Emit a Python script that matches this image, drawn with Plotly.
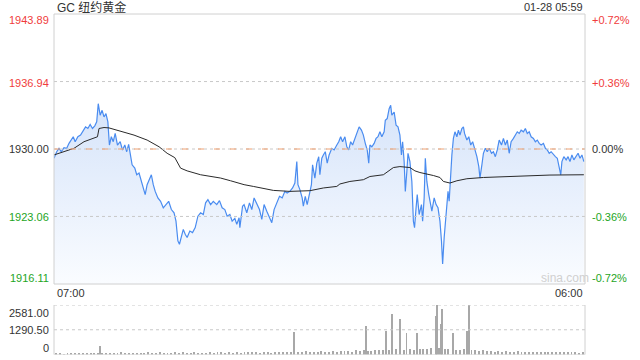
import plotly.graph_objects as go

# ---------------- data ----------------
# minutes after 07:00
price_min = [0, 7, 13, 19, 26, 33, 39, 45, 50, 55, 62, 69, 76, 82, 88, 94, 100, 106, 111, 115,
             120, 125, 130, 135, 140, 144, 149, 154, 159, 165, 172, 178, 184, 189, 194, 198, 203, 210, 215, 221,
             227, 232, 237, 242, 248, 253, 258, 263, 270, 277, 284, 291, 298, 305, 312, 317, 322, 326, 331, 336,
             341, 346, 353, 360, 367, 374, 381, 388, 394, 400, 407, 414, 423, 430, 437, 444, 450, 457, 463, 470,
             475, 481, 483, 487, 490, 494, 501, 508, 514, 520, 527, 534, 540, 546, 553, 560, 566, 572, 579, 586,
             593, 600, 606, 613, 620, 626, 631, 634, 639, 645, 648, 653, 658, 664, 669, 672, 678, 683, 688, 691,
             696, 700, 705, 710, 715, 722, 728, 735, 740, 745, 750, 756, 761, 766, 771, 776, 782, 788, 793, 799,
             804, 809, 814, 818, 821, 826, 832, 837, 842, 847, 852, 858, 861, 866, 871, 875, 878, 884, 889, 894,
             899, 903, 906, 910, 913, 917, 920, 925, 930, 934, 937, 941, 944, 949, 955, 958, 962, 965, 969, 974,
             982, 988, 993, 998, 1003, 1007, 1010, 1014, 1017, 1021, 1024, 1027, 1031, 1034, 1038, 1042, 1047, 1051, 1055, 1060,
             1064, 1067, 1073, 1078, 1083, 1088, 1093, 1099, 1104, 1107, 1112, 1116, 1121, 1126, 1131, 1137, 1142, 1147, 1152, 1157,
             1163, 1168, 1173, 1178, 1183, 1188, 1194, 1199, 1204, 1209, 1214, 1220, 1225, 1230, 1235, 1240, 1246, 1251, 1256, 1261,
             1266, 1272, 1277, 1282, 1287, 1292, 1298, 1303, 1308, 1313, 1317, 1320, 1325, 1331, 1336, 1341, 1346, 1351, 1357, 1362,
             1367, 1372, 1377]
price = [1929.05, 1929.72, 1930.07, 1929.72, 1930.13, 1930.07, 1930.58, 1930.92, 1931.26, 1930.75,
         1931.26, 1931.43, 1931.94, 1932.28, 1932.11, 1932.52, 1932.11, 1932.38, 1932.79, 1934.66,
         1933.47, 1933.98, 1933.30, 1933.64, 1932.79, 1930.41, 1931.26, 1930.75, 1931.60, 1930.41,
         1930.75, 1929.90, 1930.41, 1929.72, 1930.48, 1929.39, 1928.37, 1928.03, 1927.35, 1927.52,
         1926.66, 1926.15, 1925.31, 1926.33, 1927.01, 1927.35, 1926.33, 1925.64, 1924.97, 1924.62,
         1923.95, 1924.28, 1924.62, 1923.77, 1923.44, 1922.58, 1920.54, 1920.20, 1921.05, 1921.73,
         1921.22, 1920.89, 1921.56, 1921.40, 1921.91, 1923.09, 1923.44, 1923.26, 1924.46, 1924.79,
         1924.28, 1924.62, 1924.28, 1924.69, 1923.95, 1923.77, 1923.09, 1923.26, 1922.58, 1922.86,
         1922.24, 1922.93, 1921.91, 1923.26, 1924.11, 1924.28, 1923.44, 1924.46, 1923.77, 1924.97,
         1924.28, 1923.77, 1922.75, 1924.28, 1923.60, 1922.93, 1922.42, 1923.77, 1924.46, 1925.13,
         1924.97, 1925.64, 1925.48, 1925.64, 1925.99, 1926.50, 1928.70, 1926.33, 1925.82, 1924.97,
         1924.11, 1925.13, 1924.28, 1925.31, 1926.33, 1928.37, 1927.01, 1928.54, 1929.21, 1927.35,
         1929.05, 1929.39, 1929.72, 1928.54, 1929.39, 1930.07, 1929.90, 1930.41, 1930.75, 1931.26,
         1930.75, 1931.26, 1930.23, 1929.90, 1930.75, 1930.41, 1931.09, 1931.77, 1932.28, 1931.94,
         1931.43, 1930.58, 1929.90, 1928.54, 1930.41, 1930.23, 1930.58, 1931.09, 1931.26, 1931.77,
         1931.26, 1931.77, 1932.96, 1933.13, 1934.15, 1934.49, 1933.47, 1933.81, 1932.45, 1932.28,
         1931.43, 1929.39, 1930.75, 1928.70, 1925.64, 1927.68, 1929.56, 1928.70, 1926.66, 1922.58,
         1921.91, 1923.95, 1925.31, 1923.26, 1924.28, 1922.58, 1924.97, 1929.05, 1926.66, 1925.31,
         1923.60, 1924.97, 1924.28, 1923.95, 1922.58, 1920.54, 1918.16, 1920.89, 1922.58, 1924.28,
         1925.64, 1924.62, 1927.68, 1929.39, 1931.09, 1931.77, 1931.26, 1931.94, 1931.43, 1932.11,
         1932.28, 1931.60, 1930.92, 1931.26, 1930.41, 1930.75, 1930.07, 1929.21, 1928.19, 1927.01,
         1928.37, 1929.56, 1930.07, 1929.72, 1930.07, 1929.56, 1929.72, 1929.21, 1929.90, 1930.92,
         1930.41, 1931.09, 1930.41, 1930.92, 1929.56, 1930.75, 1931.09, 1931.43, 1931.77, 1931.60,
         1931.94, 1931.77, 1932.11, 1931.60, 1931.77, 1931.26, 1931.09, 1930.75, 1930.92, 1930.58,
         1930.41, 1930.58, 1930.07, 1929.90, 1929.56, 1929.72, 1929.39, 1929.21, 1929.05, 1928.19,
         1927.35, 1928.70, 1929.21, 1928.88, 1929.21, 1928.70, 1929.39, 1928.88, 1929.21, 1929.56,
         1929.05, 1929.39, 1928.70]

avg_min = [0, 26, 52, 78, 108, 113, 117, 130, 143, 173, 208, 242, 273, 294, 314, 329, 346, 381, 433, 459,
           494, 518, 570, 613, 665, 700, 735, 743, 769, 804, 821, 856, 865, 882, 899, 925, 938, 951, 986, 1003,
           1012, 1029, 1047, 1073, 1116, 1203, 1289, 1377]
avg_price = [1929.39, 1929.72, 1930.07, 1930.75, 1931.15, 1931.26, 1932.11, 1932.21, 1932.17, 1931.84,
             1931.43, 1930.92, 1930.23, 1929.56, 1929.11, 1928.03, 1927.75, 1927.35, 1927.01, 1926.73,
             1926.33, 1926.15, 1925.74, 1925.64, 1925.71, 1925.99, 1926.15, 1926.40, 1926.66, 1926.84,
             1927.17, 1927.35, 1927.58, 1928.09, 1928.19, 1928.09, 1927.75, 1927.58, 1927.27, 1927.07,
             1926.66, 1926.50, 1926.73, 1926.94, 1927.07, 1927.21, 1927.32, 1927.35]

vol_min = [5, 15, 25, 35, 45, 55, 65, 75, 85, 95, 105, 115, 120, 125, 135, 145, 155, 165, 175, 185,
           195, 205, 215, 225, 235, 245, 255, 265, 275, 285, 295, 305, 315, 325, 335, 345, 355, 365, 375, 385,
           395, 405, 415, 425, 435, 445, 455, 465, 475, 485, 495, 505, 515, 525, 535, 545, 555, 565, 575, 585,
           595, 605, 615, 624, 635, 645, 655, 665, 675, 685, 695, 705, 715, 725, 735, 745, 755, 765, 775, 785,
           795, 805, 810, 815, 825, 835, 845, 855, 862, 870, 879, 890, 900, 910, 916, 925, 935, 943, 950, 960,
           970, 980, 993, 996, 1000, 1005, 1008, 1015, 1025, 1036, 1045, 1055, 1065, 1074, 1079, 1085, 1095, 1105, 1115, 1125,
           1135, 1145, 1155, 1165, 1175, 1185, 1195, 1205, 1215, 1225, 1235, 1245, 1255, 1265, 1275, 1285, 1295, 1305, 1315, 1325,
           1335, 1345, 1355, 1365, 1375]
vol = [30, 40, 25, 45, 35, 55, 40, 30, 60, 75, 65, 80, 440, 90, 60, 70, 50, 80, 105, 65,
       85, 75, 60, 95, 80, 105, 90, 75, 115, 85, 100, 80, 120, 90, 105, 75, 95, 115, 85, 100,
       75, 130, 90, 105, 120, 95, 110, 85, 130, 100, 115, 140, 105, 125, 95, 150, 120, 100, 135, 115,
       155, 125, 140, 1190, 145, 120, 160, 130, 150, 125, 170, 140, 155, 180, 145, 165, 200, 175, 150, 210,
       190, 225, 1500, 200, 180, 240, 210, 260, 1240, 230, 2110, 270, 1850, 240, 1140, 280, 250, 1120, 310, 270,
       300, 340, 2010, 2581, 350, 1590, 2370, 310, 280, 1120, 240, 260, 300, 1225, 2581, 250, 220, 190, 210, 180,
       165, 150, 180, 140, 160, 130, 150, 170, 140, 125, 150, 135, 115, 140, 125, 110, 150, 130, 120, 105,
       125, 110, 130, 100, 115]

prev_close = 1930.00
price_ticks = [1943.89, 1936.94, 1930.00, 1923.06, 1916.11]
pct_labels = ["+0.72%", "+0.36%", "0.00%", "-0.36%", "-0.72%"]
vol_ticks = [2581.00, 1290.50, 0]
title_text = "GC 纽约黄金"
time_text = "01-28 05:59"
x_labels = ["07:00", "06:00"]

# ---------------- layout helpers ----------------
W, H = 640, 360
L, R = 54, 585
MAIN_TOP, MAIN_BOT = 14, 284
VOL_TOP, VOL_BOT = 305, 354.5
FONT = "Liberation Sans, Arial, Noto Sans CJK SC, sans-serif"
RED, GREEN, DARK = "#f03c3c", "#1ea51e", "#333333"
LINE_BLUE = "#4a8cf0"


def px(x):
    return x / W


def py(y):
    return 1 - y / H


fig = go.Figure()

# baseline for fill
fig.add_trace(go.Scatter(x=[price_min[0], price_min[-1]], y=[price_ticks[-1], price_ticks[-1]],
                         mode="lines", line=dict(width=0), hoverinfo="skip", showlegend=False,
                         xaxis="x", yaxis="y"))
fig.add_trace(go.Scatter(x=price_min, y=price, mode="lines",
                         line=dict(color=LINE_BLUE, width=1.2),
                         fill="tonexty",
                         fillgradient=dict(type="vertical",
                                           colorscale=[[0, "rgba(250,252,255,1)"], [1, "rgba(214,228,250,1)"]],
                                           start=price_ticks[-1], stop=max(price)),
                         showlegend=False, xaxis="x", yaxis="y"))
fig.add_trace(go.Scatter(x=avg_min, y=avg_price, mode="lines",
                         line=dict(color="#2a2a2a", width=1), showlegend=False,
                         xaxis="x", yaxis="y"))
fig.add_trace(go.Bar(x=vol_min, y=vol, width=2.4, marker=dict(color="#a8a8a8", line=dict(width=0)),
                     showlegend=False, xaxis="x2", yaxis="y2"))

fig.update_layout(
    width=W, height=H, margin=dict(l=0, r=0, t=0, b=0),
    paper_bgcolor="white", plot_bgcolor="white",
    font=dict(family=FONT, size=11, color=DARK),
    bargap=0,
    xaxis=dict(domain=[px(L), px(R)], range=[0, 1380], showgrid=False, zeroline=False,
               showticklabels=False, ticks="", fixedrange=True),
    yaxis=dict(domain=[py(MAIN_BOT), py(MAIN_TOP)], range=[price_ticks[-1], price_ticks[0]],
               showgrid=False, zeroline=False, showticklabels=False, ticks=""),
    xaxis2=dict(domain=[px(L), px(R)], range=[0, 1380], anchor="y2", showgrid=False, zeroline=False,
                showticklabels=False, ticks=""),
    yaxis2=dict(domain=[py(VOL_BOT), py(VOL_TOP)], range=[0, vol_ticks[0]], anchor="x2",
                showgrid=False, zeroline=False, showticklabels=False, ticks=""),
)

shapes = []
# grid lines on the price panel
for v in [price_ticks[1], price_ticks[3]]:
    shapes.append(dict(type="line", xref="x domain", yref="y", x0=0, x1=1, y0=v, y1=v,
                       line=dict(color="#c8c8c8", width=1, dash="dot")))
shapes.append(dict(type="line", xref="x domain", yref="y", x0=0, x1=1, y0=prev_close, y1=prev_close,
                   line=dict(color="#c8c8c8", width=1, dash="dot")))
shapes.append(dict(type="line", xref="x domain", yref="y", x0=0, x1=1, y0=prev_close, y1=prev_close,
                   line=dict(color="#f0a070", width=1, dash="6px,10px")))
# price panel frame
shapes.append(dict(type="rect", xref="x domain", yref="y domain", x0=0, x1=1, y0=0, y1=1,
                   line=dict(color="#d0d0d0", width=1), layer="above"))
# volume panel
for v in vol_ticks[:2]:
    shapes.append(dict(type="line", xref="x2 domain", yref="y2", x0=0, x1=1, y0=v, y1=v,
                       line=dict(color="#c8c8c8", width=1, dash="dot")))
shapes.append(dict(type="line", xref="x2 domain", yref="y2 domain", x0=0, x1=0, y0=0, y1=1,
                   line=dict(color="#d0d0d0", width=1)))
shapes.append(dict(type="line", xref="x2 domain", yref="y2 domain", x0=1, x1=1, y0=0, y1=1,
                   line=dict(color="#d0d0d0", width=1)))
shapes.append(dict(type="line", xref="x2 domain", yref="y2", x0=0, x1=1, y0=0, y1=0,
                   line=dict(color="#d0d0d0", width=1)))
fig.update_layout(shapes=shapes)

ann = []
left_y = [20, 83, 149, 217, 278]
left_col = [RED, RED, DARK, GREEN, GREEN]
for t, yy, c, pc in zip(price_ticks, left_y, left_col, pct_labels):
    ann.append(dict(x=px(51), y=py(yy), xref="paper", yref="paper", text=f"{t:.2f}",
                    xanchor="right", yanchor="middle", showarrow=False, font=dict(color=c, size=11)))
    ann.append(dict(x=px(590), y=py(yy), xref="paper", yref="paper", text=pc,
                    xanchor="left", yanchor="middle", showarrow=False, font=dict(color=c, size=11)))
vol_y = [313, 330, 348]
for t, yy in zip(vol_ticks, vol_y):
    txt = f"{t:.2f}" if t else "0"
    ann.append(dict(x=px(51), y=py(yy), xref="paper", yref="paper", text=txt,
                    xanchor="right", yanchor="middle", showarrow=False, font=dict(color=DARK, size=11)))
ann.append(dict(x=px(55), y=py(7), xref="paper", yref="paper", text=title_text, xanchor="left",
                yanchor="middle", showarrow=False, font=dict(color=DARK, size=12)))
ann.append(dict(x=px(585), y=py(7), xref="paper", yref="paper", text=time_text, xanchor="right",
                yanchor="middle", showarrow=False, font=dict(color=DARK, size=11)))
ann.append(dict(x=px(55), y=py(293), xref="paper", yref="paper", text=x_labels[0], xanchor="left",
                yanchor="middle", showarrow=False, font=dict(color=DARK, size=11)))
ann.append(dict(x=px(585), y=py(293), xref="paper", yref="paper", text=x_labels[1], xanchor="right",
                yanchor="middle", showarrow=False, font=dict(color=DARK, size=11)))
ann.append(dict(x=px(565), y=py(278), xref="paper", yref="paper", text="sina.com", xanchor="center",
                yanchor="middle", showarrow=False, font=dict(color="#d0d0d0", size=12)))
fig.update_layout(annotations=ann)

fig.write_html("out.html")
